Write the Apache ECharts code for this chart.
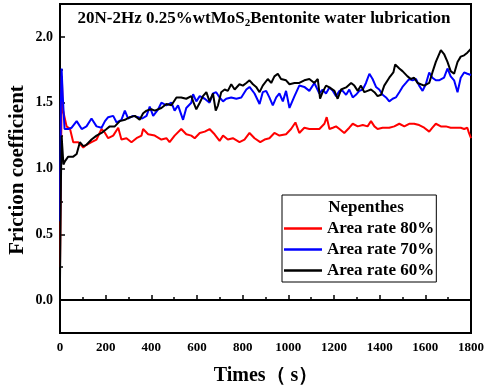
<!DOCTYPE html>
<html>
<head>
<meta charset="utf-8">
<script src="https://cdn.jsdelivr.net/npm/echarts@6/dist/echarts.min.js"></script>
<style>
  html, body { margin: 0; padding: 0; background: #fff; }
  #chart { width: 487px; height: 389px; }
</style>
</head>
<body>
<div id="chart"></div>
<script>
// Friction coefficient vs. time for three textured surface area rates
const seriesNames = ['Area rate 80%', 'Area rate 70%', 'Area rate 60%'];
const xTicks = [0, 200, 400, 600, 800, 1000, 1200, 1400, 1600, 1800];

const timeA80 = [0,4,8,12,29,44,58,80,87,102,116,138,160,182,197,211,233,255,269,291,313,335,357,364,386,415,444,466,480,502,531,553,575,590,612,634,655,677,699,714,735,757,786,808,830,852,877,896,917,939,961,990,1012,1031,1048,1070,1092,1114,1136,1158,1168,1180,1195,1209,1224,1245,1267,1282,1304,1326,1347,1362,1377,1391,1413,1442,1464,1486,1508,1529,1551,1573,1595,1617,1631,1646,1668,1690,1711,1733,1755,1770,1784,1791,1800];
const cofA80 = [0.25,1.0,1.70,1.45,1.32,1.30,1.20,1.20,1.21,1.16,1.18,1.20,1.22,1.30,1.27,1.23,1.25,1.31,1.22,1.23,1.20,1.23,1.25,1.30,1.26,1.25,1.22,1.23,1.20,1.25,1.30,1.26,1.25,1.23,1.27,1.28,1.30,1.26,1.21,1.25,1.22,1.23,1.20,1.22,1.27,1.23,1.20,1.22,1.23,1.27,1.25,1.26,1.30,1.35,1.27,1.31,1.30,1.30,1.30,1.34,1.39,1.30,1.31,1.32,1.30,1.27,1.31,1.34,1.32,1.33,1.32,1.36,1.32,1.30,1.31,1.31,1.32,1.34,1.32,1.34,1.34,1.33,1.31,1.28,1.31,1.34,1.32,1.32,1.31,1.31,1.31,1.30,1.31,1.27,1.23];

const timeA70 = [0,4,7,12,20,36,51,73,95,116,138,160,182,197,211,233,248,269,284,298,320,342,360,379,393,408,430,444,466,488,502,517,539,553,575,583,597,612,634,655,670,684,699,714,728,750,772,794,816,830,852,874,888,903,917,932,947,961,976,990,1005,1027,1048,1070,1092,1114,1136,1150,1165,1180,1195,1209,1224,1238,1253,1267,1282,1296,1311,1326,1340,1355,1369,1384,1398,1413,1428,1442,1457,1471,1486,1500,1515,1529,1544,1559,1573,1588,1602,1617,1631,1646,1660,1682,1697,1711,1726,1741,1755,1770,1784,1800];
const cofA70 = [0.6,1.5,1.76,1.55,1.30,1.30,1.31,1.36,1.30,1.32,1.38,1.32,1.31,1.36,1.39,1.40,1.35,1.37,1.44,1.38,1.40,1.39,1.38,1.40,1.47,1.40,1.45,1.50,1.48,1.50,1.44,1.48,1.37,1.46,1.50,1.565,1.51,1.55,1.53,1.50,1.57,1.58,1.54,1.51,1.53,1.54,1.53,1.54,1.60,1.62,1.57,1.49,1.58,1.59,1.54,1.48,1.54,1.57,1.51,1.59,1.46,1.55,1.63,1.62,1.59,1.65,1.57,1.60,1.57,1.616,1.59,1.55,1.59,1.59,1.56,1.60,1.54,1.56,1.59,1.60,1.65,1.72,1.68,1.62,1.60,1.56,1.54,1.51,1.53,1.54,1.58,1.62,1.65,1.68,1.67,1.68,1.63,1.59,1.64,1.73,1.69,1.67,1.67,1.69,1.76,1.70,1.67,1.58,1.69,1.73,1.72,1.71];

const timeA60 = [0,4,7,15,22,36,58,73,87,102,116,138,160,182,204,218,240,262,284,306,328,349,364,379,400,415,444,466,488,510,531,553,575,583,597,612,626,641,655,670,682,692,706,721,735,750,765,786,801,816,830,845,859,874,888,910,925,939,954,968,990,1005,1027,1048,1070,1092,1114,1129,1139,1150,1165,1180,1202,1216,1231,1253,1275,1289,1304,1318,1333,1347,1362,1377,1391,1406,1420,1442,1460,1468,1486,1500,1522,1537,1551,1566,1580,1595,1617,1631,1646,1668,1682,1697,1711,1726,1741,1755,1770,1784,1800];
const cofA60 = [0.15,0.9,1.25,1.03,1.056,1.09,1.09,1.11,1.20,1.17,1.18,1.22,1.25,1.27,1.30,1.32,1.32,1.36,1.37,1.39,1.40,1.37,1.42,1.44,1.45,1.44,1.46,1.49,1.48,1.54,1.54,1.53,1.55,1.51,1.45,1.50,1.55,1.58,1.51,1.57,1.44,1.48,1.58,1.60,1.59,1.64,1.60,1.64,1.63,1.65,1.67,1.64,1.62,1.58,1.63,1.68,1.65,1.70,1.72,1.68,1.67,1.64,1.65,1.65,1.67,1.68,1.65,1.68,1.53,1.58,1.63,1.616,1.59,1.53,1.60,1.616,1.65,1.63,1.59,1.63,1.58,1.59,1.60,1.58,1.55,1.56,1.63,1.69,1.73,1.79,1.76,1.74,1.70,1.68,1.69,1.65,1.64,1.63,1.65,1.73,1.81,1.90,1.87,1.81,1.74,1.72,1.81,1.85,1.86,1.88,1.91];

function pairs(ts, vs) { return ts.map((t, i) => [t, vs[i]]); }

const colors = ['#ff0000', '#0000ff', '#000000'];
const seriesData = [pairs(timeA80, cofA80), pairs(timeA70, cofA70), pairs(timeA60, cofA60)];

const FONT = '"Liberation Serif", "Times New Roman", serif';

const chart = echarts.init(document.getElementById('chart'), null, { renderer: 'canvas' });
chart.setOption({
  animation: false,
  backgroundColor: '#fff',
  grid: { left: 60, right: 15, top: 4, bottom: 56, show: true, borderColor: '#000', borderWidth: 2 },
  xAxis: {
    type: 'value', min: xTicks[0], max: xTicks[xTicks.length - 1], interval: xTicks[1] - xTicks[0],
    axisLine: { show: true, lineStyle: { color: '#000', width: 2 } },
    axisTick: { show: true, inside: true, length: 5, lineStyle: { color: '#000', width: 1.5 } },
    minorTick: { show: true, splitNumber: 2, length: 3, lineStyle: { color: '#000', width: 1.5 } },
    splitLine: { show: false },
    axisLabel: { color: '#000', fontFamily: FONT, fontWeight: 'bold', fontSize: 13, margin: 8,
      formatter: v => String(v) }
  },
  yAxis: {
    type: 'value', min: -0.25, max: 2.25,
    axisLine: { show: true, lineStyle: { color: '#000', width: 2 } },
    axisTick: { show: true, inside: true, length: 5, lineStyle: { color: '#000', width: 1.5 } },
    minorTick: { show: true, splitNumber: 2, length: 3, lineStyle: { color: '#000', width: 1.5 } },
    splitLine: { show: false },
    axisLabel: {
      color: '#000', fontFamily: FONT, fontWeight: 'bold', fontSize: 14, margin: 7,
      formatter: v => (Math.abs(v * 2 - Math.round(v * 2)) < 1e-6 ? v.toFixed(1) : '')
    }
  },
  legend: {
    data: seriesNames,
    orient: 'vertical',
    left: 282, top: 195,
    padding: [25, 2, 3, 2],
    itemGap: 4,
    itemWidth: 38, itemHeight: 2.5,
    icon: 'rect',
    borderColor: '#000', borderWidth: 1,
    textStyle: { color: '#000', fontFamily: FONT, fontWeight: 'bold', fontSize: 17, lineHeight: 17 }
  },
  graphic: [
    {
      type: 'text', x: 264, y: 19, z: 100,
      style: {
        text: '{a|20N-2Hz 0.25%wtMoS}{s|2}{a|Bentonite water lubrication}',
        align: 'center', verticalAlign: 'middle',
        rich: {
          a: { fontFamily: FONT, fontWeight: 'bold', fontSize: 17, fill: '#000', lineHeight: 20 },
          s: { fontFamily: FONT, fontWeight: 'bold', fontSize: 11, fill: '#000', lineHeight: 20, padding: [8, 0, 0, 0] }
        }
      }
    },
    {
      type: 'text', x: 366, y: 208, z: 100,
      style: { text: 'Nepenthes', align: 'center', verticalAlign: 'middle',
        fontFamily: FONT, fontWeight: 'bold', fontSize: 17, fill: '#000' }
    },
    {
      type: 'text', x: 18, y: 170, rotation: Math.PI / 2, z: 100,
      style: { text: 'Friction coefficient', align: 'center', verticalAlign: 'middle',
        fontFamily: FONT, fontWeight: 'bold', fontSize: 21, fill: '#000' }
    },
    {
      type: 'text', x: 266, y: 376, z: 100,
      style: { text: 'Times（ s）', align: 'center', verticalAlign: 'middle',
        fontFamily: FONT, fontWeight: 'bold', fontSize: 20, fill: '#000' }
    }
  ],
  series: seriesNames.map((name, i) => ({
    name, type: 'line', data: seriesData[i], showSymbol: false, symbol: 'none',
    lineStyle: { color: colors[i], width: 2 }, itemStyle: { color: colors[i] }
  }))
});
</script>
</body>
</html>
